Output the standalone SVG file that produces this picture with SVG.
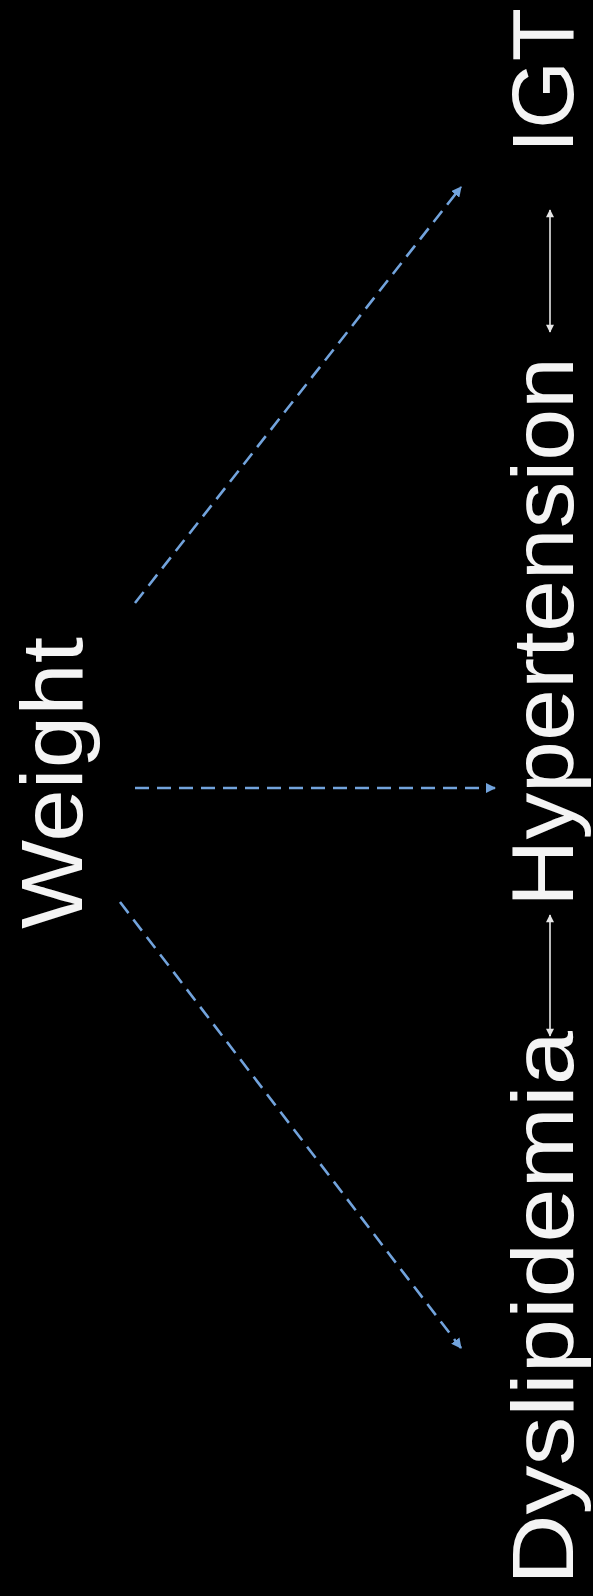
<svg xmlns="http://www.w3.org/2000/svg" width="593" height="1596" viewBox="0 0 593 1596">
<style>
.lbl{font-family:"Liberation Sans",Arial,sans-serif;font-size:87px;fill:#f4f4f4}
.dash{stroke:#72a3dc;stroke-width:2.6;stroke-dasharray:14 8;fill:none}
.dbl{stroke:#e6e6e6;stroke-width:1.6;fill:none}
</style>
<defs>
<marker id="ab" viewBox="0 0 10 10" refX="9" refY="5" markerWidth="4" markerHeight="4" orient="auto" markerUnits="strokeWidth">
<path d="M0,0 L10,5 L0,10 z" fill="#72a3dc"/>
</marker>
<marker id="aw" viewBox="0 0 10 10" refX="9" refY="5" markerWidth="6" markerHeight="5" orient="auto-start-reverse" markerUnits="strokeWidth">
<path d="M0,0 L10,5 L0,10 z" fill="#e6e6e6"/>
</marker>
</defs>
<rect width="593" height="1596" fill="#000"/>
<g id="connectors">
<line class="dash" x1="135" y1="603" x2="461" y2="187" marker-end="url(#ab)"/>
<line class="dash" x1="135" y1="788" x2="495" y2="788" marker-end="url(#ab)"/>
<line class="dash" x1="120" y1="902" x2="461" y2="1348" marker-end="url(#ab)"/>
<line class="dbl" x1="550" y1="1036" x2="550" y2="915" marker-start="url(#aw)" marker-end="url(#aw)"/>
<line class="dbl" x1="550" y1="332" x2="550" y2="210" marker-start="url(#aw)" marker-end="url(#aw)"/>
</g>
<g id="weight"><text class="lbl" transform="translate(82,929) rotate(-90)" textLength="292" lengthAdjust="spacingAndGlyphs">Weight</text></g>
<g id="dyslipidemia"><text class="lbl" transform="translate(573,1585) rotate(-90)" textLength="554" lengthAdjust="spacingAndGlyphs">Dyslipidemia</text></g>
<g id="hypertension"><text class="lbl" transform="translate(573,907) rotate(-90)" textLength="550" lengthAdjust="spacingAndGlyphs">Hypertension</text></g>
<g id="igt"><text class="lbl" transform="translate(573,153) rotate(-90)" textLength="145" lengthAdjust="spacingAndGlyphs">IGT</text></g>
</svg>
